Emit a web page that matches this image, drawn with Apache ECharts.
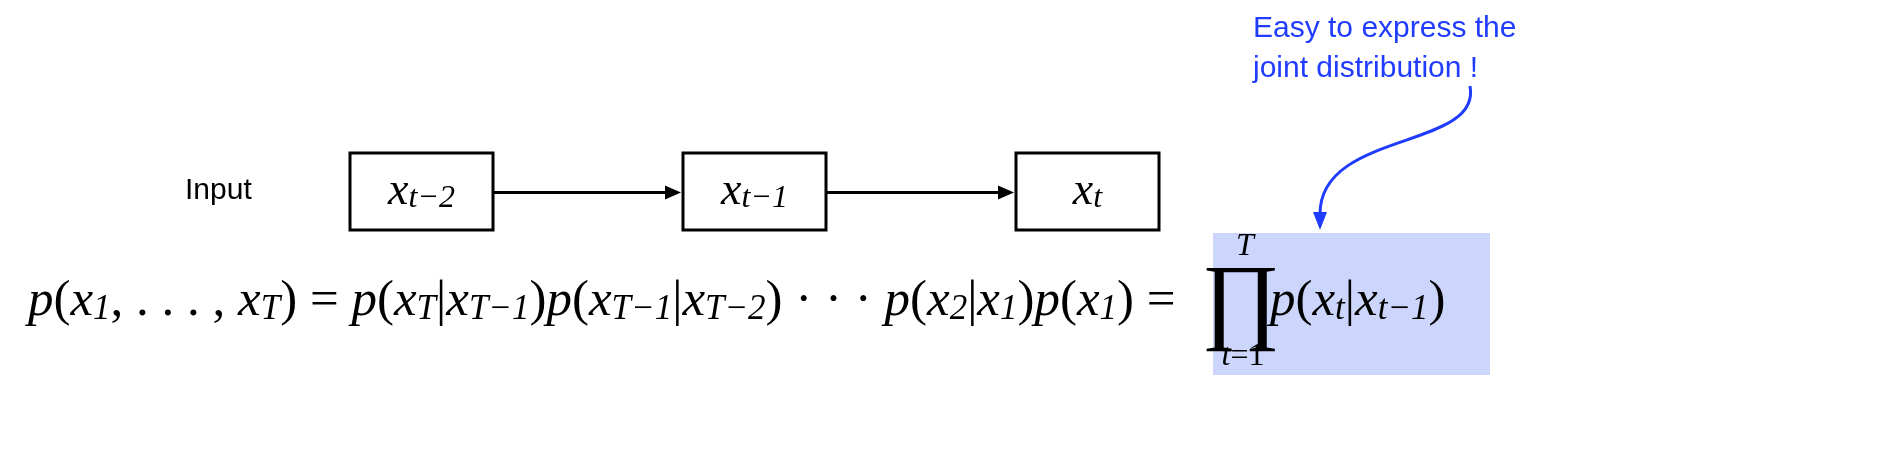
<!DOCTYPE html>
<html>
<head>
<meta charset="utf-8">
<script src="https://cdn.jsdelivr.net/npm/echarts@6/dist/echarts.min.js"></script>
<style>html,body{margin:0;padding:0;background:#fff}#main{width:1891px;height:466px}</style>
</head>
<body>
<div id="main"></div>
<script>
// node labels (rich text) and note text
const nodeLabels = ['{m|x}{s|t−2}', '{m|x}{s|t−1}', '{m|x}{s|t}'];
const rowLabel = 'Input';
const noteLines = ['Easy to express the', 'joint distribution !'];
const eqLeft = '{m|p}{r|(}{m|x}{s|1}{r|, . . . , }{m|x}{s|T}{r|) = }{m|p}{r|(}{m|x}{s|T}{r||}{m|x}{s|T−1}{r|)}' +
  '{m|p}{r|(}{m|x}{s|T−1}{r||}{m|x}{s|T−2}{r|) · · · }{m|p}{r|(}{m|x}{s|2}{r||}{m|x}{s|1}{r|)}{m|p}{r|(}{m|x}{s|1}{r|) =}';
const eqRight = '{m|p}{r|(}{m|x}{s|t}{r||}{m|x}{s|t−1}{r|)}';

const blue = '#1f3cff';
const mathRich = {
  m: {fontFamily: 'Liberation Serif', fontStyle: 'italic', fontSize: 51, lineHeight: 56, verticalAlign: 'bottom'},
  r: {fontFamily: 'Liberation Serif', fontSize: 51, lineHeight: 56, verticalAlign: 'bottom'},
  s: {fontFamily: 'Liberation Serif', fontStyle: 'italic', fontSize: 35, lineHeight: 22, verticalAlign: 'bottom'}
};

const boxX = [350, 683, 1016], boxY = 153, boxW = 143, boxH = 77;
const els = [];

els.push({type: 'text', left: 185, top: 176, style: {text: rowLabel, font: '30px "Liberation Sans"', fill: '#000'}});

boxX.forEach((x, i) => {
  els.push({type: 'rect', shape: {x: x, y: boxY, width: boxW, height: boxH},
    style: {fill: '#fff', stroke: '#000', lineWidth: 3}});
  els.push({type: 'text', x: x + boxW / 2, y: boxY + boxH / 2 - 2,
    style: {text: nodeLabels[i], rich: {
      m: {fontFamily: 'Liberation Serif', fontStyle: 'italic', fontSize: 46, lineHeight: 50, verticalAlign: 'bottom'},
      s: {fontFamily: 'Liberation Serif', fontStyle: 'italic', fontSize: 32, lineHeight: 22, verticalAlign: 'bottom'}
    }, align: 'center', verticalAlign: 'middle', fill: '#000'}});
  if (i < boxX.length - 1) {
    const x1 = x + boxW, x2 = boxX[i + 1] - 2, y = boxY + boxH / 2 + 1;
    els.push({type: 'line', shape: {x1: x1, y1: y, x2: x2 - 14, y2: y}, style: {stroke: '#000', lineWidth: 3}});
    els.push({type: 'polygon', shape: {points: [[x2, y], [x2 - 16, y - 7], [x2 - 16, y + 7]]}, style: {fill: '#000'}});
  }
});

// highlight box
els.push({type: 'rect', shape: {x: 1213, y: 233, width: 277, height: 142}, style: {fill: '#ccd5fb'}});

els.push({type: 'text', left: 28, top: 276, style: {text: eqLeft, rich: mathRich, fill: '#000'}});
els.push({type: 'text', x: 1241, y: 306, style: {text: '∏', font: '96px "Liberation Serif"', align: 'center', verticalAlign: 'middle', fill: '#000'}});
els.push({type: 'text', x: 1245, y: 247, style: {text: 'T', font: 'italic 32px "Liberation Serif"', align: 'center', verticalAlign: 'middle', fill: '#000'}});
els.push({type: 'text', x: 1243, y: 357, style: {text: '{a|t}{b|=1}', rich: {
  a: {fontFamily: 'Liberation Serif', fontStyle: 'italic', fontSize: 32}, b: {fontFamily: 'Liberation Serif', fontSize: 32}
}, align: 'center', verticalAlign: 'middle', fill: '#000'}});
els.push({type: 'text', left: 1270, top: 276, style: {text: eqRight, rich: mathRich, fill: '#000'}});

// note
noteLines.forEach((t, i) => {
  els.push({type: 'text', left: 1253, top: 14 + i * 40, style: {text: t, font: '30px "Liberation Sans"', fill: blue}});
});
els.push({type: 'bezierCurve', shape: {x1: 1470, y1: 86, cpx1: 1482, cpy1: 150, cpx2: 1320, cpy2: 130, x2: 1320, y2: 214},
  style: {stroke: blue, lineWidth: 3, fill: null}});
els.push({type: 'polygon', shape: {points: [[1320, 230], [1313, 212], [1327, 212]]}, style: {fill: blue}});

const chart = echarts.init(document.getElementById('main'));
chart.setOption({graphic: {elements: els}});
</script>
</body>
</html>
